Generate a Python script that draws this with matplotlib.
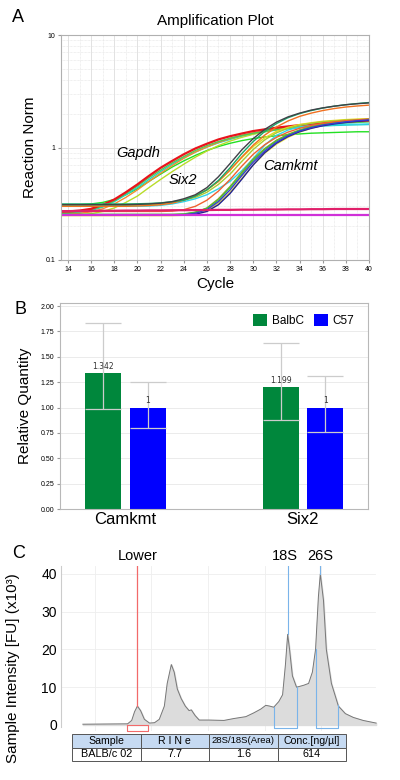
import matplotlib
matplotlib.use("Agg")
import matplotlib.pyplot as plt
from matplotlib.patches import Rectangle
from matplotlib.ticker import FixedLocator, NullFormatter, LogLocator

plt.rcParams['font.family'] = ['Liberation Sans', 'DejaVu Sans']

# ---------------- Panel A data: amplification curves ----------------
cycles = list(range(13, 41))

gapdh_red = [0.268, 0.27, 0.275, 0.285, 0.31, 0.345, 0.40, 0.47, 0.56, 0.66, 0.76, 0.87, 0.98, 1.08,
             1.18, 1.26, 1.33, 1.40, 1.45, 1.50, 1.54, 1.58, 1.61, 1.64, 1.67, 1.70, 1.72, 1.74]
gapdh_green = [0.31, 0.31, 0.31, 0.315, 0.325, 0.345, 0.38, 0.43, 0.50, 0.58, 0.67, 0.76, 0.85, 0.94,
               1.02, 1.09, 1.15, 1.20, 1.24, 1.27, 1.30, 1.32, 1.34, 1.35, 1.36, 1.37, 1.38, 1.38]
gapdh_cyan = [0.26, 0.26, 0.265, 0.275, 0.295, 0.33, 0.38, 0.44, 0.52, 0.61, 0.71, 0.81, 0.91, 1.01,
              1.10, 1.18, 1.26, 1.32, 1.38, 1.43, 1.47, 1.50, 1.53, 1.55, 1.57, 1.58, 1.59, 1.60]
gapdh_ygreen = [0.25, 0.25, 0.252, 0.258, 0.27, 0.29, 0.325, 0.37, 0.44, 0.52, 0.61, 0.71, 0.82, 0.93,
                1.04, 1.14, 1.23, 1.31, 1.38, 1.45, 1.51, 1.56, 1.61, 1.65, 1.69, 1.73, 1.76, 1.79]
gapdh_orange = [0.255, 0.255, 0.26, 0.268, 0.285, 0.315, 0.36, 0.42, 0.50, 0.59, 0.69, 0.80, 0.91, 1.01,
                1.11, 1.20, 1.28, 1.35, 1.41, 1.47, 1.52, 1.56, 1.60, 1.63, 1.66, 1.69, 1.71, 1.73]
gapdh_lime = [0.262, 0.262, 0.27, 0.28, 0.30, 0.335, 0.39, 0.455, 0.54, 0.63, 0.73, 0.83, 0.94, 1.04,
              1.13, 1.21, 1.28, 1.34, 1.39, 1.44, 1.48, 1.52, 1.56, 1.59, 1.62, 1.65, 1.67, 1.69]

six2_dark = [0.31, 0.31, 0.31, 0.31, 0.31, 0.31, 0.31, 0.312, 0.315, 0.32, 0.33, 0.35, 0.38, 0.44,
             0.55, 0.72, 0.95, 1.20, 1.45, 1.68, 1.87, 2.02, 2.15, 2.25, 2.33, 2.40, 2.45, 2.49]
six2_teal = [0.315, 0.315, 0.315, 0.315, 0.315, 0.315, 0.315, 0.316, 0.318, 0.322, 0.33, 0.34, 0.37, 0.42,
             0.51, 0.66, 0.88, 1.13, 1.39, 1.63, 1.84, 2.00, 2.13, 2.24, 2.33, 2.40, 2.46, 2.51]
six2_orange = [0.30, 0.30, 0.30, 0.30, 0.30, 0.30, 0.30, 0.302, 0.305, 0.31, 0.32, 0.34, 0.37, 0.42,
               0.50, 0.63, 0.82, 1.05, 1.29, 1.52, 1.72, 1.89, 2.02, 2.13, 2.22, 2.29, 2.34, 2.38]
six2_cyan = [0.30, 0.30, 0.30, 0.30, 0.30, 0.30, 0.30, 0.30, 0.302, 0.306, 0.315, 0.33, 0.35, 0.38,
             0.43, 0.50, 0.62, 0.80, 1.05, 1.28, 1.43, 1.52, 1.57, 1.59, 1.60, 1.61, 1.61, 1.62]
six2_yellow = [0.305, 0.305, 0.305, 0.305, 0.305, 0.305, 0.305, 0.306, 0.31, 0.315, 0.325, 0.345, 0.375, 0.42,
               0.50, 0.63, 0.81, 1.02, 1.22, 1.39, 1.51, 1.60, 1.66, 1.71, 1.74, 1.77, 1.79, 1.80]
six2_ygreen = [0.31, 0.31, 0.31, 0.31, 0.31, 0.31, 0.31, 0.31, 0.312, 0.316, 0.325, 0.34, 0.36, 0.40,
               0.47, 0.58, 0.75, 0.96, 1.17, 1.35, 1.48, 1.57, 1.64, 1.69, 1.72, 1.75, 1.77, 1.78]

camkmt_blue = [0.25, 0.25, 0.25, 0.25, 0.25, 0.25, 0.25, 0.25, 0.25, 0.25, 0.25, 0.252, 0.26, 0.28,
               0.33, 0.42, 0.56, 0.74, 0.93, 1.11, 1.27, 1.40, 1.50, 1.58, 1.64, 1.69, 1.73, 1.76]
camkmt_olive = [0.252, 0.252, 0.252, 0.252, 0.252, 0.252, 0.252, 0.252, 0.252, 0.252, 0.252, 0.255, 0.265, 0.29,
                0.35, 0.45, 0.60, 0.79, 0.98, 1.16, 1.31, 1.43, 1.53, 1.60, 1.66, 1.71, 1.75, 1.78]
camkmt_orange = [0.27, 0.27, 0.27, 0.27, 0.27, 0.27, 0.27, 0.27, 0.27, 0.27, 0.272, 0.28, 0.30, 0.34,
                 0.41, 0.52, 0.68, 0.87, 1.06, 1.23, 1.37, 1.48, 1.57, 1.64, 1.69, 1.73, 1.76, 1.79]
camkmt_yellow = [0.248, 0.248, 0.248, 0.248, 0.248, 0.248, 0.248, 0.248, 0.248, 0.248, 0.248, 0.25, 0.258, 0.275,
                 0.32, 0.40, 0.53, 0.70, 0.89, 1.07, 1.23, 1.37, 1.48, 1.57, 1.65, 1.71, 1.76, 1.80]
camkmt_navy = [0.25, 0.25, 0.25, 0.25, 0.25, 0.25, 0.25, 0.25, 0.25, 0.25, 0.25, 0.25, 0.255, 0.27,
               0.31, 0.39, 0.52, 0.70, 0.90, 1.09, 1.25, 1.38, 1.48, 1.56, 1.62, 1.67, 1.71, 1.74]
camkmt_green = [0.255, 0.255, 0.255, 0.255, 0.255, 0.255, 0.255, 0.255, 0.255, 0.255, 0.255, 0.257, 0.266, 0.288,
                0.34, 0.44, 0.58, 0.77, 0.96, 1.14, 1.29, 1.42, 1.52, 1.60, 1.66, 1.71, 1.75, 1.78]

ntc_crimson = [0.272, 0.272, 0.273, 0.273, 0.274, 0.274, 0.275, 0.275, 0.276, 0.276, 0.277, 0.277, 0.278, 0.278,
               0.279, 0.279, 0.280, 0.280, 0.281, 0.281, 0.282, 0.282, 0.283, 0.283, 0.284, 0.284, 0.284, 0.284]
ntc_magenta = [0.251] * 28

curves = [gapdh_green, gapdh_cyan, gapdh_ygreen, gapdh_orange, gapdh_lime, gapdh_red,
          six2_yellow, six2_ygreen, six2_cyan, six2_orange, six2_teal, six2_dark,
          camkmt_yellow, camkmt_olive, camkmt_green, camkmt_orange, camkmt_navy, camkmt_blue,
          ntc_crimson, ntc_magenta]
curve_colors = ['#22e022', '#22d0d0', '#b8dc2a', '#f09030', '#50c850', '#e8141c',
                '#e6d820', '#a8cc30', '#30d4e8', '#f07020', '#18a868', '#404048',
                '#e8e040', '#8aa020', '#40c040', '#f06030', '#202090', '#3a3ad0',
                '#e0206a', '#d030d8']

# ---------------- Panel B data ----------------
genes = ['Camkmt', 'Six2']
strains = ['BalbC', 'C57']
balbc_rq = [1.342, 1.199]
c57_rq = [1.0, 1.0]
balbc_err_low = [0.982, 0.877]
balbc_err_high = [1.836, 1.64]
c57_err_low = [0.802, 0.763]
c57_err_high = [1.247, 1.313]
bar_labels_balbc = ['1.342', '1.199']
bar_labels_c57 = ['1', '1']

# ---------------- Panel C data: electropherogram ----------------
ep_x = [6.9, 21.0, 22.3, 23.2, 24.1, 25.1, 26.3, 27.9, 29.5, 31.0, 32.6, 33.5, 34.8, 35.7, 36.7, 37.9,
        39.2, 40.4, 41.1, 42.3, 43.6, 46.7, 51.4, 54.5, 58.3, 60.8, 63.0, 64.6, 65.8, 67.1, 68.7, 69.9,
        70.8, 71.5, 72.1, 73.0, 74.3, 76.5, 78.1, 79.3, 80.3, 81.2, 81.8, 82.8, 83.7, 85.3, 87.5, 89.7,
        92.2, 95.3, 99.4]
ep_y = [0.2, 0.3, 1.2, 3.5, 5.0, 3.8, 1.5, 0.5, 0.6, 1.5, 5.0, 11.0, 16.0, 14.0, 9.5, 7.0,
        5.0, 3.8, 4.0, 2.5, 1.3, 1.3, 1.2, 1.7, 2.2, 3.2, 4.2, 5.2, 5.0, 4.7, 6.2, 8.0,
        16.0, 24.0, 20.0, 13.0, 10.0, 10.5, 11.0, 14.0, 20.0, 34.0, 40.0, 33.0, 20.0, 11.0, 5.0, 3.0,
        2.0, 1.2, 0.5]
peak_names = ['Lower', '18S', '26S']
peak_x = [24.1, 71.5, 81.8]
peak_y = [5.0, 24.0, 40.0]
lower_window = [20.7, 27.6]
s18_window = [67.1, 74.6]
s26_window = [80.3, 87.4]
table_cols = ['Sample', 'R I N e', '28S/18S(Area)', 'Conc.[ng/µl]']
table_row = ['BALB/c 02', '7.7', '1.6', '614']

# =====================================================================
fig = plt.figure(figsize=(4, 7.8), dpi=100)

def fy(px):
    return 1 - px / 780.0

# ---------------- Panel A ----------------
axA = fig.add_axes([61 / 400, fy(260), 308 / 400, (260 - 35) / 780])
for vals, col in zip(curves, curve_colors):
    lw = 1.6 if col in ('#e0206a', '#d030d8', '#e8141c') else 1.0
    axA.plot(cycles, vals, color=col, lw=lw, solid_capstyle='round')
axA.set_yscale('log')
axA.set_xlim(13.4, 40)
axA.set_ylim(0.1, 10)
axA.set_xticks(range(14, 41, 2))
axA.xaxis.set_minor_locator(FixedLocator(range(15, 40, 2)))
axA.set_yticks([0.1, 1, 10])
axA.set_yticklabels(['0.1', '1', '10'])
axA.yaxis.set_minor_locator(LogLocator(base=10, subs=range(2, 10)))
axA.yaxis.set_minor_formatter(NullFormatter())
axA.tick_params(axis='both', which='major', labelsize=5, length=2, color='#999999', pad=2)
axA.tick_params(axis='both', which='minor', length=0)
axA.grid(True, which='major', color='#dddddd', lw=0.6)
axA.grid(True, which='minor', color='#e2e2e2', lw=0.5, ls=(0, (1, 1)))
axA.set_axisbelow(True)
for s in axA.spines.values():
    s.set_color('#b0b0b0')
    s.set_linewidth(0.8)
axA.set_title('Amplification Plot', fontsize=11, pad=7)
axA.set_xlabel('Cycle', fontsize=11, labelpad=3)
axA.set_ylabel('Reaction Norm', fontsize=11, labelpad=6)
axA.text(0.25, 0.476, 'Gapdh', transform=axA.transAxes, fontsize=10.5, style='italic', ha='center', va='center')
axA.text(0.395, 0.355, 'Six2', transform=axA.transAxes, fontsize=10.5, style='italic', ha='center', va='center')
axA.text(0.746, 0.418, 'Camkmt', transform=axA.transAxes, fontsize=10.5, style='italic', ha='center', va='center')
fig.text(18 / 400, fy(18), 'A', fontsize=13, ha='center', va='center')

# ---------------- Panel B ----------------
axB = fig.add_axes([60 / 400, fy(509), 308 / 400, (509 - 303) / 780])
xpos = list(range(len(genes)))
w = 0.203
off = 0.125
green = '#00873c'
blue = '#0000ff'
xb = [x - off for x in xpos]
xc = [x + off for x in xpos]
axB.bar(xb, balbc_rq, width=w, color=green, label=strains[0], zorder=2)
axB.bar(xc, c57_rq, width=w, color=blue, label=strains[1], zorder=2)
errb = [[v - lo for v, lo in zip(balbc_rq, balbc_err_low)], [hi - v for v, hi in zip(balbc_rq, balbc_err_high)]]
errc = [[v - lo for v, lo in zip(c57_rq, c57_err_low)], [hi - v for v, hi in zip(c57_rq, c57_err_high)]]
axB.errorbar(xb, balbc_rq, yerr=errb, fmt='none', ecolor='#cccccc', elinewidth=0.9, capsize=13, capthick=0.9, zorder=3)
axB.errorbar(xc, c57_rq, yerr=errc, fmt='none', ecolor='#cccccc', elinewidth=0.9, capsize=13, capthick=0.9, zorder=3)
for x, v, t in zip(xb, balbc_rq, bar_labels_balbc):
    axB.text(x, v + 0.02, t, fontsize=5.5, ha='center', va='bottom', color='#333333', family='DejaVu Sans', zorder=4)
for x, v, t in zip(xc, c57_rq, bar_labels_c57):
    axB.text(x, v + 0.02, t, fontsize=5.5, ha='center', va='bottom', color='#333333', family='DejaVu Sans', zorder=4)
axB.set_xlim(-0.369, 1.366)
axB.set_ylim(0, 2.03)
axB.set_yticks([0, 0.25, 0.5, 0.75, 1.0, 1.25, 1.5, 1.75, 2.0])
axB.set_yticklabels(['0.00', '0.25', '0.50', '0.75', '1.00', '1.25', '1.50', '1.75', '2.00'])
axB.set_xticks(xpos)
axB.set_xticklabels(genes, fontsize=12)
axB.tick_params(axis='y', labelsize=5, length=2, color='#999999', pad=2)
axB.tick_params(axis='x', length=0, pad=2)
axB.yaxis.grid(True, color='#e8e8e8', lw=0.6)
axB.set_axisbelow(True)
for s in axB.spines.values():
    s.set_color('#b8b8b8')
    s.set_linewidth(0.8)
axB.set_ylabel('Relative Quantity', fontsize=11, labelpad=6)
axB.legend(loc='upper right', ncol=2, frameon=False, fontsize=8.5, handlelength=1.2, handleheight=1.3,
           handletextpad=0.4, columnspacing=0.8, bbox_to_anchor=(0.99, 1.0))
fig.text(20 / 400, fy(310), 'B', fontsize=13, ha='center', va='center')

# ---------------- Panel C ----------------
axC = fig.add_axes([61 / 400, fy(731), 317 / 400, (731 - 566) / 780])
axC.set_xlim(0, 100)
axC.set_ylim(-1.6, 42.1)
axC.fill_between(ep_x, 0, ep_y, color='#dcdcdc', zorder=2)
axC.plot(ep_x, ep_y, color='#777777', lw=0.7, zorder=3)
for x in [10.6, 28.5, 46.3, 64.2, 82.0]:
    axC.axvline(x, color='#eeeeee', lw=0.6, zorder=1)
for y in [10, 20, 30, 40]:
    axC.axhline(y, xmax=0.992, color='#eeeeee', lw=0.6, zorder=1)
red_c = '#f26a6a'
blue_c = '#7ab4ea'
axC.plot([peak_x[0], peak_x[0]], [peak_y[0], 42.1], color=red_c, lw=0.9, zorder=4)
axC.plot([lower_window[0], lower_window[0], lower_window[1], lower_window[1], lower_window[0]],
         [0, -1.6, -1.6, 0, 0], color=red_c, lw=0.8, zorder=4, clip_on=False)
for px_, py_ in zip(peak_x[1:], peak_y[1:]):
    axC.plot([px_, px_], [py_, 42.1], color=blue_c, lw=0.8, zorder=4)
def curve_at(x):
    for i in range(len(ep_x) - 1):
        if ep_x[i] <= x <= ep_x[i + 1]:
            t = (x - ep_x[i]) / (ep_x[i + 1] - ep_x[i])
            return ep_y[i] + t * (ep_y[i + 1] - ep_y[i])
    return 0
for win in (s18_window, s26_window):
    axC.plot([win[0], win[0], win[1], win[1]], [curve_at(win[0]), -0.8, -0.8, curve_at(win[1])],
             color=blue_c, lw=0.8, zorder=4)
for name, px_ in zip(peak_names, peak_x):
    axC.text(px_ + (0.0 if name != '18S' else -0.8), 42.9, name, fontsize=10.5, ha='center', va='bottom')
axC.set_yticks([0, 10, 20, 30, 40])
axC.set_xticks([])
axC.tick_params(axis='y', labelsize=10, length=0, pad=3)
for k in ('top', 'right', 'bottom'):
    axC.spines[k].set_visible(False)
axC.spines['left'].set_color('#cccccc')
axC.spines['left'].set_linewidth(0.8)
axC.spines['left'].set_bounds(-0.5, 42.1)
axC.set_ylabel('Sample Intensity [FU] (x10³)', fontsize=11, labelpad=4)
axC.yaxis.set_label_coords(-0.13, 0.38)
fig.text(19 / 400, fy(553), 'C', fontsize=13, ha='center', va='center')

# table
axT = fig.add_axes([72 / 400, fy(761), (346 - 72) / 400, (761 - 734) / 780])
axT.set_xlim(0, 4)
axT.set_ylim(0, 2)
axT.axis('off')
for i, (hdr, val) in enumerate(zip(table_cols, table_row)):
    axT.add_patch(Rectangle((i, 1), 1, 1, facecolor='#c6daf2', edgecolor='#555555', lw=0.7, clip_on=False))
    axT.add_patch(Rectangle((i, 0), 1, 1, facecolor='white', edgecolor='#555555', lw=0.7, clip_on=False))
    axT.text(i + 0.5, 1.5, hdr, fontsize=7.6 if i != 2 else 6.8, ha='center', va='center')
    axT.text(i + 0.5, 0.5, val, fontsize=7.8, ha='center', va='center')

fig.savefig('out.png', dpi=100)
